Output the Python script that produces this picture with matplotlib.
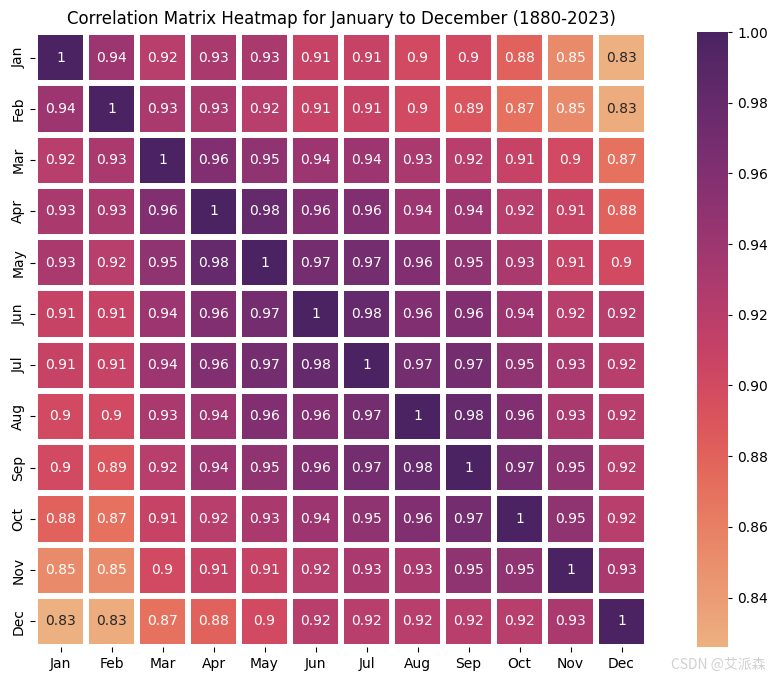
import numpy as np
import pandas as pd
import matplotlib
matplotlib.use("Agg")
import matplotlib.pyplot as plt
import seaborn as sns

months = ["Jan", "Feb", "Mar", "Apr", "May", "Jun",
          "Jul", "Aug", "Sep", "Oct", "Nov", "Dec"]

# correlation values (upper triangle incl. diagonal)
row_jan = [1, 0.94, 0.92, 0.93, 0.93, 0.91, 0.91, 0.90, 0.90, 0.88, 0.853, 0.826]
row_feb = [1, 0.93, 0.93, 0.92, 0.91, 0.91, 0.90, 0.89, 0.87, 0.853, 0.829]
row_mar = [1, 0.96, 0.95, 0.94, 0.94, 0.93, 0.92, 0.91, 0.90, 0.87]
row_apr = [1, 0.98, 0.96, 0.96, 0.94, 0.94, 0.92, 0.91, 0.88]
row_may = [1, 0.97, 0.97, 0.96, 0.95, 0.93, 0.91, 0.90]
row_jun = [1, 0.98, 0.96, 0.96, 0.94, 0.92, 0.92]
row_jul = [1, 0.97, 0.97, 0.95, 0.93, 0.92]
row_aug = [1, 0.98, 0.96, 0.93, 0.92]
row_sep = [1, 0.97, 0.95, 0.92]
row_oct = [1, 0.95, 0.92]
row_nov = [1, 0.93]
row_dec = [1]

rows = [row_jan, row_feb, row_mar, row_apr, row_may, row_jun,
        row_jul, row_aug, row_sep, row_oct, row_nov, row_dec]

n = len(months)
corr = np.zeros((n, n))
for i, r in enumerate(rows):
    for k, v in enumerate(r):
        corr[i, i + k] = v
        corr[i + k, i] = v
corr_df = pd.DataFrame(corr, index=months, columns=months)

fig = plt.figure(figsize=(7.77, 6.8), dpi=100)
ax = fig.add_axes([35 / 777, 33 / 680, 612 / 777, 615 / 680])
cax = fig.add_axes([697 / 777, 33 / 680, 31 / 777, 615 / 680])

sns.heatmap(corr_df, annot=True, cmap="flare", linewidths=3, linecolor="white",
            ax=ax, cbar_ax=cax)
cax.tick_params(length=3)
ax.set_title("Correlation Matrix Heatmap for January to December (1880-2023)")

fig.text(0.985, 0.012, "CSDN @艾派森", ha="right", va="bottom", color="#d0d0d0",
         fontsize=10, family=["Noto Sans CJK SC", "DejaVu Sans"])

fig.savefig("out.png", dpi=100)
